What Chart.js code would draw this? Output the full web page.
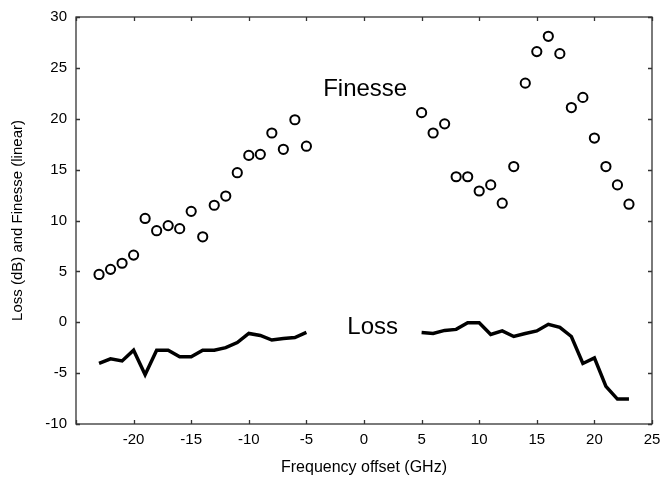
<!DOCTYPE html>
<html>
<head>
<meta charset="utf-8">
<script src="https://cdn.jsdelivr.net/npm/chart.js@4/dist/chart.umd.min.js"></script>
<style>
  html, body { margin: 0; padding: 0; background: #fff; }
  #wrap { width: 663px; height: 479px; position: relative; }
</style>
</head>
<body>
<div id="wrap"><canvas id="c" width="663" height="479"></canvas></div>
<script>
// ---- Data ----
const finesseX = [-23,-22,-21,-20,-19,-18,-17,-16,-15,-14,-13,-12,-11,-10,-9,-8,-7,-6,-5,
                  5,6,7,8,9,10,11,12,13,14,15,16,17,18,19,20,21,22,23];
const finesseY = [4.7,5.2,5.8,6.6,10.2,9.0,9.5,9.2,10.9,8.4,11.5,12.4,14.7,16.4,16.5,18.6,17.0,19.9,17.3,
                  20.6,18.6,19.5,14.3,14.3,12.9,13.5,11.7,15.3,23.5,26.6,28.1,26.4,21.1,22.1,18.1,15.3,13.5,11.6];
const lossX = [-23,-22,-21,-20,-19,-18,-17,-16,-15,-14,-13,-12,-11,-10,-9,-8,-7,-6,-5,
               0,
               5,6,7,8,9,10,11,12,13,14,15,16,17,18,19,20,21,22,23];
const lossY = [-4.05,-3.6,-3.8,-2.75,-5.15,-2.75,-2.75,-3.4,-3.4,-2.75,-2.75,-2.5,-2.0,-1.1,-1.3,-1.75,-1.6,-1.5,-1.0,
               null,
               -1.0,-1.1,-0.8,-0.7,-0.05,-0.05,-1.2,-0.85,-1.4,-1.1,-0.85,-0.2,-0.5,-1.4,-4.05,-3.5,-6.3,-7.55,-7.55];
const xTicks = [-25,-20,-15,-10,-5,0,5,10,15,20,25];
const yTicks = [-10,-5,0,5,10,15,20,25,30];
const annotations = [
  { text: 'Finesse', x: 0.1, y: 22.9 },
  { text: 'Loss', x: 0.75, y: -0.5 }
];

const FONT = '"Liberation Sans", Arial, Helvetica, sans-serif';

const frame = {
  id: 'frame',
  afterDatasetsDraw(chart) {
    const ctx = chart.ctx;
    const a = chart.chartArea;
    const xs = chart.scales.x, ys = chart.scales.y;
    ctx.save();
    ctx.strokeStyle = '#333';
    ctx.lineWidth = 1.3;
    ctx.strokeRect(a.left, a.top, a.right - a.left, a.bottom - a.top);
    const L = 4;
    ctx.beginPath();
    xTicks.forEach(v => {
      const px = Math.round(xs.getPixelForValue(v)) + 0.5;
      ctx.moveTo(px, a.bottom); ctx.lineTo(px, a.bottom - L);
      ctx.moveTo(px, a.top); ctx.lineTo(px, a.top + L);
    });
    yTicks.forEach(v => {
      const py = Math.round(ys.getPixelForValue(v)) + 0.5;
      ctx.moveTo(a.left, py); ctx.lineTo(a.left + L, py);
      ctx.moveTo(a.right, py); ctx.lineTo(a.right - L, py);
    });
    ctx.stroke();
    ctx.fillStyle = '#000';
    ctx.font = '24px ' + FONT;
    ctx.textAlign = 'center';
    ctx.textBaseline = 'middle';
    annotations.forEach(t => {
      ctx.fillText(t.text, xs.getPixelForValue(t.x), ys.getPixelForValue(t.y));
    });
    ctx.restore();
  }
};

new Chart(document.getElementById('c'), {
  type: 'scatter',
  data: {
    datasets: [
      {
        label: 'Loss',
        type: 'line',
        data: lossX.map((x, i) => ({ x: x, y: lossY[i] })),
        borderColor: '#000',
        borderWidth: 3.5,
        pointRadius: 0,
        spanGaps: false,
        tension: 0,
        fill: false
      },
      {
        label: 'Finesse',
        data: finesseX.map((x, i) => ({ x: x, y: finesseY[i] })),
        pointStyle: 'circle',
        pointRadius: 4.6,
        pointBorderWidth: 2,
        pointBorderColor: '#000',
        pointBackgroundColor: 'rgba(255,255,255,0)',
        showLine: false
      }
    ]
  },
  options: {
    responsive: false,
    animation: false,
    devicePixelRatio: 1,
    layout: { padding: { top: 17, right: 11, left: 0, bottom: 0 } },
    plugins: { legend: { display: false }, tooltip: { enabled: false } },
    scales: {
      x: {
        type: 'linear',
        min: -25, max: 25,
        afterBuildTicks: s => { s.ticks = xTicks.map(v => ({ value: v })); },
        afterFit: s => { s.height = 55; s.paddingLeft = 0; s.paddingRight = 0; },
        grid: { display: false, drawTicks: false },
        border: { display: false },
        ticks: {
          color: '#000',
          font: { family: FONT, size: 15 },
          padding: 7,
          maxRotation: 0,
          autoSkip: false,
          callback: v => (v === -25 ? '' : String(v))
        },
        title: {
          display: true,
          text: 'Frequency offset (GHz)',
          color: '#000',
          font: { family: FONT, size: 16 },
          padding: { top: 0, bottom: 2 }
        }
      },
      y: {
        type: 'linear',
        min: -10, max: 30,
        afterBuildTicks: s => { s.ticks = yTicks.map(v => ({ value: v })); },
        afterFit: s => { s.width = 76; s.paddingTop = 0; s.paddingBottom = 0; },
        grid: { display: false, drawTicks: false },
        border: { display: false },
        ticks: {
          color: '#000',
          font: { family: FONT, size: 15 },
          padding: 9,
          callback: v => String(v)
        },
        title: {
          display: true,
          text: 'Loss (dB) and Finesse (linear)',
          color: '#000',
          font: { family: FONT, size: 15 },
          padding: { top: 9, bottom: 0 }
        }
      }
    }
  },
  plugins: [frame]
});
</script>
</body>
</html>
